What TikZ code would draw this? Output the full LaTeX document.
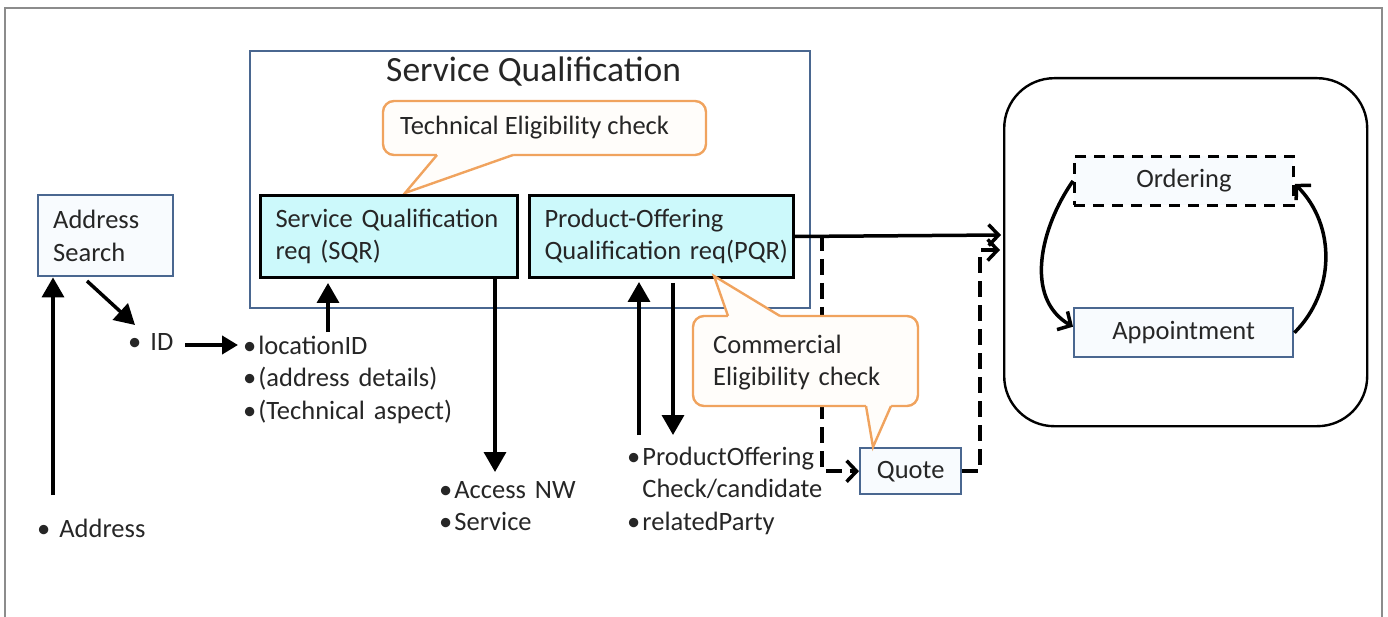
\documentclass[tikz,border=0pt]{standalone}
\usepackage{fontspec}
\setmainfont{Carlito}
\usetikzlibrary{arrows.meta}
\definecolor{bbord}{HTML}{4A6790}
\definecolor{bfill}{HTML}{F8FBFE}
\definecolor{cyanf}{HTML}{CCF9FB}
\definecolor{orng}{HTML}{F0A35E}
\definecolor{ofill}{HTML}{FFFDFA}
\definecolor{framegray}{HTML}{8C8C8C}
\definecolor{ink}{HTML}{262626}
\newcommand{\bul}{\textbullet\hspace{2pt}}
\begin{document}
\begin{tikzpicture}[x=1pt,y=-1pt,
  txt/.style={font=\fontsize{26.5}{32.5}\selectfont, text=ink},
  lbl/.style={txt, inner sep=0pt, anchor=base west, text width=#1, align=left},
  bluebox/.style={draw=bbord, line width=2.4pt, fill=bfill, txt, inner sep=0pt, anchor=north west},
  reqbox/.style={draw=black, line width=3pt, fill=cyanf, txt, inner ysep=0pt, inner xsep=15pt, anchor=north west, align=left},
  arr/.style={line width=3.5pt, -{Triangle[length=20pt,width=22pt]}},
  oarr/.style={line width=3.5pt, -{Straight Barb[length=10pt,width=21pt,line width=3.5pt]}},
  dsh/.style={line width=4pt, dash pattern=on 16pt off 8pt},
]
\useasboundingbox (0,0) rectangle (1388,617);
\draw[framegray, line width=1.5pt] (5,617) -- (5,8) -- (1382,8) -- (1382,617);

% Service Qualification container
\node[draw=bbord, line width=2.4pt, minimum width=560, minimum height=257, anchor=north west, inner sep=0pt] (sq) at (249,50) {};
\node[font=\fontsize{35.5}{40}\selectfont, text=ink, anchor=base west, inner sep=0pt] (sqt) at (386,82) {Service Qualification};

% Technical callout
\fill[ofill, draw=orng, line width=2.4pt, rounded corners=11pt] (383,101) rectangle (706,155);
\fill[ofill] (437,150) -- (437,155) -- (405,193) -- (513,155) -- (513,150) -- cycle;
\draw[orng, line width=2.4pt, line join=miter] (437,155) -- (405,193) -- (513,155);
\node[txt, anchor=base west, inner sep=0pt] (tec) at (400,135) {Technical Eligibility check};

% request boxes
\node[reqbox, minimum width=257, minimum height=82, text width=227] (sqr) at (259,194) {Service~Qualification\\req~(SQR)};
\node[reqbox, minimum width=264, minimum height=82, text width=234] (pqr) at (528,194) {Product-Offering\\Qualification~req(PQR)};

% Address search
\node[bluebox, minimum width=135, minimum height=81, inner xsep=15pt, text width=105, align=left] (as) at (37,194) {Address\\Search};

% labels
\node[lbl=140] (addr) at (37,537) {\textbullet\hspace{9pt}Address};
\node[lbl=60] (id) at (128,350) {\textbullet\hspace{9pt}ID};
\node[lbl=250] (loc) at (243,354) {\bul locationID\\\bul(address details)\\\bul(Technical aspect)};
\node[lbl=180] (acc) at (439,498) {\bul Access NW\\\bul Service};
\node[lbl=240] (po) at (627,465) {\bul ProductOffering\\\phantom{\bul}Check/candidate\\\bul relatedParty};

% free ends
\coordinate (a1) at (53,495);
\coordinate (d0) at (87,281);
\coordinate (d1) at (135,325);
\coordinate (i0) at (185,345);
\coordinate (i1) at (238,345);
\coordinate (s0) at (328,332);
\coordinate (s1) at (328,283);
\coordinate (n1) at (495,472);
\coordinate (p0) at (639,435);
\coordinate (p1) at (639,282);
\coordinate (q0) at (673,283);
\coordinate (q1) at (673,435);
\coordinate (in1) at (1001,235);
\coordinate (in2) at (1000,250);
\coordinate (dl) at (822,235);

% arrows
\draw[arr] (a1) -- (as.south -| a1);
\draw[arr] (d0) -- (d1);
\draw[line width=4pt, -{Triangle[length=16pt,width=18pt]}] (i0) -- (i1);
\draw[arr] (s0) -- (s1);
\draw[arr] (sqr.south -| n1) -- (n1);
\draw[arr] (p0) -- (p1);
\draw[arr] (q0) -- (q1);

% Quote
\node[bluebox, minimum width=101, minimum height=46] (qt) at (859,447) {Quote};

% dashed
\draw[dsh, oarr] (dl) |- (qt.west);
\draw[dsh, oarr] (qt.east) -| (980,250) -- (in2);

% main arrow
\draw[oarr] (pqr.east) -- (in1);

% Commercial callout
\fill[ofill, draw=orng, line width=2.4pt, rounded corners=11pt] (693,316) rectangle (918,406);
\fill[ofill] (728,321) -- (728,316) -- (714,276) -- (780,316) -- (780,321) -- cycle;
\draw[orng, line width=2.4pt, line join=miter] (728,316) -- (714,276) -- (780,316);
\fill[ofill] (866,401) -- (866,406) -- (873,447) -- (891,406) -- (891,401) -- cycle;
\draw[orng, line width=2.4pt, line join=miter] (866,406) -- (873,447) -- (891,406);
\node[lbl=200] (com) at (713,353) {Commercial\\Eligibility check};

% right rounded box
\node[draw, line width=2.4pt, rounded corners=50pt, minimum width=363, minimum height=348, anchor=north west, inner sep=0pt] (rb) at (1003,77) {};
\node[draw=black, dash pattern=on 11pt off 8pt, line width=2.8pt, fill=bfill, minimum width=219, minimum height=49, anchor=north west, inner sep=0pt, txt] (ord) at (1073,155) {Ordering};
\node[bluebox, minimum width=219, minimum height=49] (app) at (1073,307) {Appointment};
\draw[oarr] (ord.west) to[out=235,in=150] ([yshift=6pt]app.west);
\draw[oarr] (app.east) to[out=45,in=-45] ([yshift=-3pt]ord.east);
\end{tikzpicture}
\end{document}
